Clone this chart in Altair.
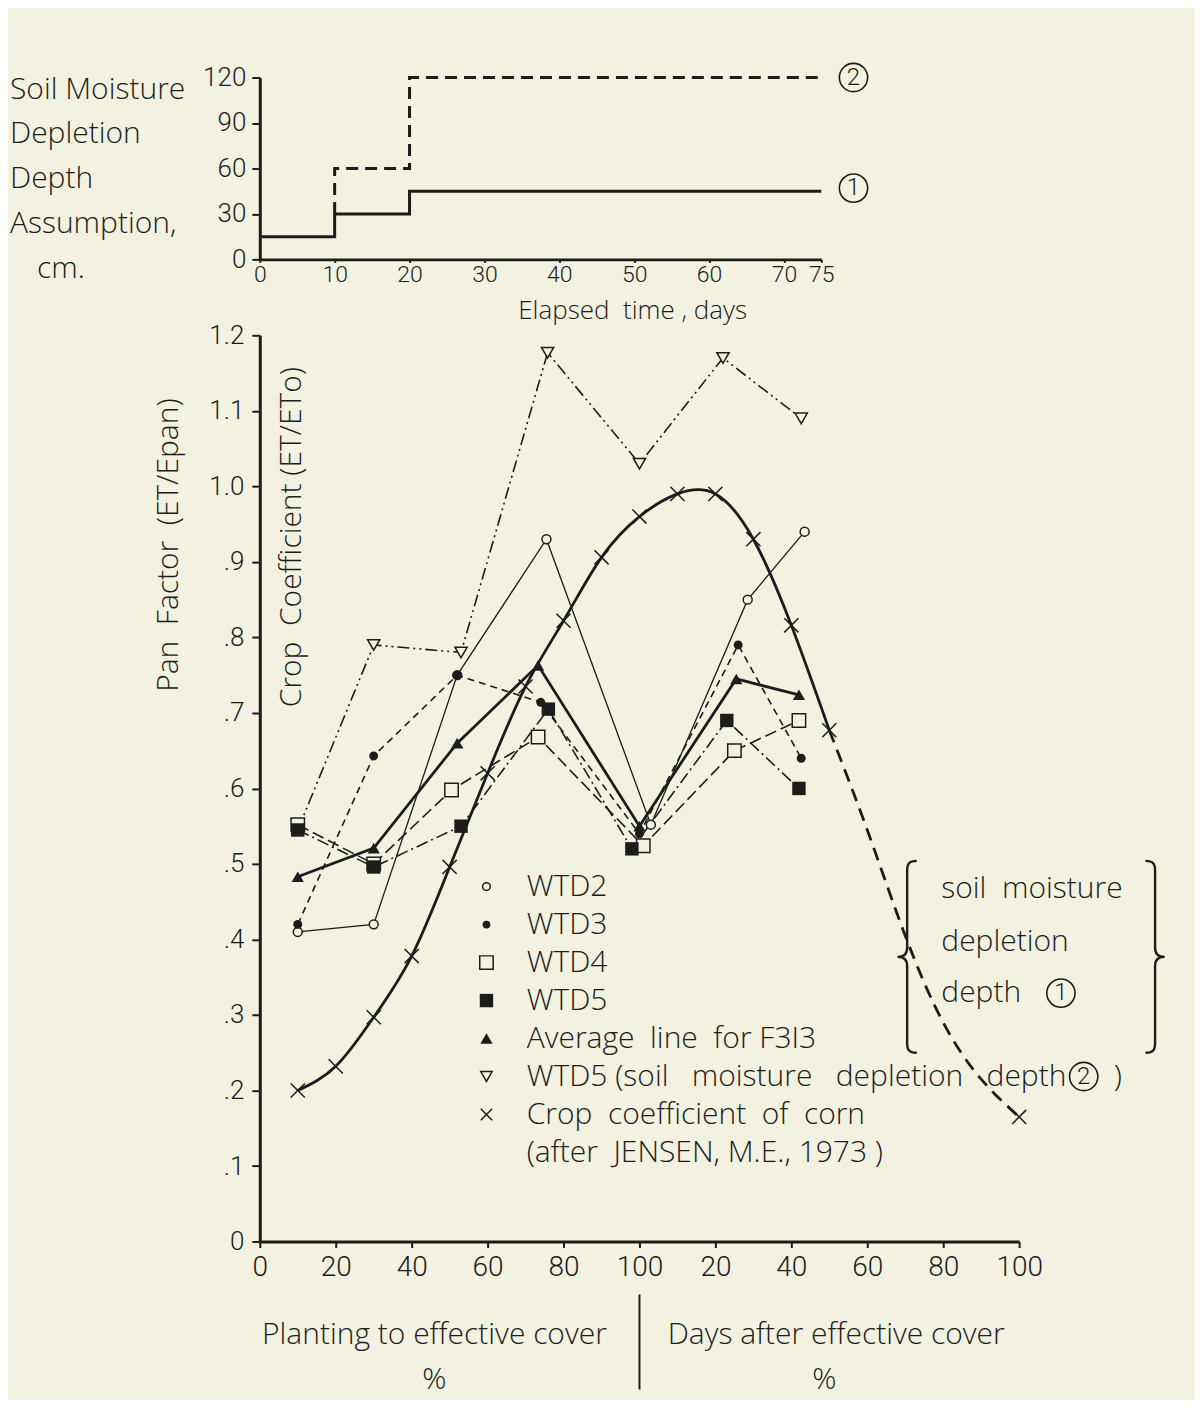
import altair as alt
import pandas as pd

INK = "#1c1c1c"
BG = "#f3f2e1"
FONT = "Open Sans"
TICKFONT = "Roboto"

# ---------------- top panel: soil moisture depletion depth assumption ----------------
days_1 = [0, 10, 20, 75]
depth_1 = [15, 30, 45, 45]
days_2 = [10, 10, 20, 75]
depth_2 = [30, 60, 120, 120]
top_x_ticks = [0, 10, 20, 30, 40, 50, 60, 70, 75]
top_y_ticks = [0, 15, 30, 45, 60, 75, 90, 105, 120]
top_title_lines = ["Soil Moisture", "Depletion", "Depth", "Assumption,", "cm."]
top_x_title = "Elapsed\u00a0\u00a0time\u00a0,\u00a0days"

# ---------------- main panel ----------------
wtd2_x = [10, 30, 52, 75.5, 103, 128.5, 143.5]
wtd2_y = [0.41, 0.42, 0.75, 0.93, 0.552, 0.85, 0.94]
wtd3_x = [10, 30, 52, 74, 100, 126, 142.6]
wtd3_y = [0.42, 0.643, 0.75, 0.714, 0.54, 0.79, 0.64]
wtd4_x = [10, 30, 50.5, 73.3, 101, 125, 142]
wtd4_y = [0.552, 0.50, 0.598, 0.668, 0.524, 0.65, 0.69]
wtd5_x = [10, 30, 53, 76, 98, 123, 142]
wtd5_y = [0.545, 0.496, 0.55, 0.705, 0.52, 0.69, 0.60]
avg_x = [10, 30, 52, 73.3, 100, 125.5, 142]
avg_y = [0.483, 0.521, 0.66, 0.763, 0.55, 0.745, 0.724]
wtd5b_x = [10, 30, 53, 75.8, 100, 122, 142.6]
wtd5b_y = [0.545, 0.79, 0.78, 1.177, 1.03, 1.17, 1.09]
crop_x = [10, 20, 30, 40, 50, 60, 70, 80, 90, 100, 110, 120, 130, 140, 150]
crop_y = [0.20, 0.232, 0.297, 0.378, 0.496, 0.62, 0.735, 0.822, 0.906, 0.96,
          0.99, 0.99, 0.93, 0.816, 0.677]
crop_ext_x = [150, 160, 170, 180, 190, 200]
crop_ext_y = [0.677, 0.545, 0.405, 0.29, 0.215, 0.165]
main_x_ticks = [0, 20, 40, 60, 80, 100, 120, 140, 160, 180, 200]
main_y_ticks = [0, 0.1, 0.2, 0.3, 0.4, 0.5, 0.6, 0.7, 0.8, 0.9, 1.0, 1.1, 1.2]
NB2 = "\u00a0\u00a0"
NB3 = "\u00a0\u00a0\u00a0"
legend_labels = ["WTD2", "WTD3", "WTD4", "WTD5",
                 "Average" + NB2 + "line" + NB2 + "for F3I3",
                 "WTD5 (soil" + NB3 + "moisture" + NB3 + "depletion" + NB3 + "depth",
                 "Crop" + NB2 + "coefficient" + NB2 + "of" + NB2 + "corn",
                 "(after" + NB2 + "JENSEN, M.E., 1973\u00a0)"]
brace_lines = ["soil" + NB2 + "moisture", "depletion", "depth"]
bottom_labels = ["Planting to effective cover", "Days after effective cover"]

XMARK = "M-1,-1L1,1M-1,1L1,-1"
LBRACE = ("M0.1,-1 C0.02,-1 0,-0.97 0,-0.9 L0,-0.1 C0,-0.03 -0.03,0 -0.1,0 "
          "C-0.03,0 0,0.03 0,0.1 L0,0.9 C0,0.97 0.02,1 0.1,1")
RBRACE = ("M-0.1,-1 C-0.02,-1 0,-0.97 0,-0.9 L0,-0.1 C0,-0.03 0.03,0 0.1,0 "
          "C0.03,0 0,0.03 0,0.1 L0,0.9 C0,0.97 -0.02,1 -0.1,1")

TS = 30  # text size


def one(t):
    return pd.DataFrame({"t": [t]})


def txt(t, x, y, size=TS, align="center", angle=None, opacity=1, font=FONT):
    kw = dict(font=font, fontWeight=300, fontSize=size, color=INK, align=align,
              baseline="middle", opacity=opacity)
    if angle is not None:
        kw["angle"] = angle
    return alt.Chart(one(t)).mark_text(**kw).encode(x=x, y=y, text="t:N")


# ================= top chart =================
TW, TH = 562, 182
tx = alt.X("x:Q", scale=alt.Scale(domain=[0, 75], nice=False, zero=False),
           axis=alt.Axis(values=top_x_ticks, title=None, tickSize=3, labelPadding=1,
                         labelFontSize=23, labelFlush=False))
ty = alt.Y("y:Q", scale=alt.Scale(domain=[0, 120], nice=False),
           axis=alt.Axis(values=top_y_ticks, title=None, tickSize=8, labelPadding=6,
                         labelFontSize=26,
                         labelExpr="datum.value % 30 == 0 ? datum.label : ''"))

d1 = pd.DataFrame({"x": days_1, "y": depth_1, "i": range(len(days_1))})
d2 = pd.DataFrame({"x": days_2, "y": depth_2, "i": range(len(days_2))})
top_layers = [
    alt.Chart(d1).mark_line(interpolate="step-after", color=INK, strokeWidth=3)
    .encode(x=tx, y=ty, order="i:Q"),
    alt.Chart(d2).mark_line(interpolate="step-after", color=INK, strokeWidth=3,
                            strokeDash=[12, 7])
    .encode(x=tx, y=ty, order="i:Q"),
]
for k, line in enumerate(top_title_lines):
    top_layers.append(txt(line, alt.value(-223 if line == "cm." else -250),
                          alt.value(12 + 45 * k), align="left"))
for yv, lab in [(120, "2"), (47, "1")]:
    top_layers.append(
        alt.Chart(one(lab)).mark_point(shape="circle", filled=False, size=800,
                                       color=INK, strokeWidth=1.6, opacity=1)
        .encode(x=alt.datum(79.3), y=alt.datum(yv)))
    top_layers.append(txt(lab, alt.datum(79.3), alt.datum(yv), size=24, font=TICKFONT))

top = alt.layer(*top_layers).properties(width=TW, height=TH)

# ================= main chart =================
MW, MH = 760, 907
mx = alt.X("x:Q", scale=alt.Scale(domain=[0, 200], nice=False),
           axis=alt.Axis(values=main_x_ticks, title=None, tickSize=6, labelPadding=6,
                         labelFontSize=28, labelFlush=False,
                         labelExpr="datum.value > 100 ? toString(datum.value - 100) : toString(datum.value)"))
my = alt.Y("y:Q", scale=alt.Scale(domain=[0, 1.2], nice=False),
           axis=alt.Axis(values=main_y_ticks, title=None, tickSize=8, labelPadding=8,
                         labelFontSize=26,
                         labelExpr="datum.value == 0 ? '0' : (datum.value < 0.99 ? replace(format(datum.value, '.1f'), '0.', '.') : format(datum.value, '.1f'))"))

series = [
    (wtd2_x, wtd2_y, dict(strokeWidth=1.3), "circle", False, 80),
    (wtd3_x, wtd3_y, dict(strokeWidth=1.6, strokeDash=[7, 5]), "circle", True, 80),
    (wtd4_x, wtd4_y, dict(strokeWidth=1.6, strokeDash=[12, 5]), "square", False, 180),
    (wtd5_x, wtd5_y, dict(strokeWidth=1.6, strokeDash=[12, 4, 2, 4]), "square", True, 180),
    (avg_x, avg_y, dict(strokeWidth=2.8), "triangle-up", True, 150),
    (wtd5b_x, wtd5b_y, dict(strokeWidth=1.6, strokeDash=[12, 4, 2, 4, 2, 4]),
     "triangle-down", False, 150),
]


def marker(df, shape, filled, size, x=mx, y=my):
    if filled:
        m = alt.Chart(df).mark_point(shape=shape, filled=True, size=size, color=INK, opacity=1)
    else:
        m = alt.Chart(df).mark_point(shape=shape, filled=True, size=size, fill=BG,
                                     stroke=INK, strokeWidth=1.5, opacity=1)
    return m.encode(x=x, y=y)


main_layers = []
# crop coefficient curve
dc = pd.DataFrame({"x": crop_x, "y": crop_y})
de = pd.DataFrame({"x": crop_ext_x, "y": crop_ext_y})
main_layers.append(alt.Chart(dc).mark_line(interpolate="natural", color=INK, strokeWidth=2.8)
                   .encode(x=mx, y=my))
main_layers.append(alt.Chart(de).mark_line(interpolate="natural", color=INK, strokeWidth=2.8,
                                           strokeDash=[13, 8]).encode(x=mx, y=my))
main_layers.append(alt.Chart(dc).mark_point(shape=XMARK, size=200, color=INK, strokeWidth=1.5,
                                            opacity=1).encode(x=mx, y=my))
main_layers.append(alt.Chart(de.iloc[-1:]).mark_point(shape=XMARK, size=200, color=INK,
                                                      strokeWidth=1.5, opacity=1)
                   .encode(x=mx, y=my))

for xs, ys, style, shape, filled, size in series:
    df = pd.DataFrame({"x": xs, "y": ys})
    main_layers.append(alt.Chart(df).mark_line(color=INK, **style).encode(x=mx, y=my))
for xs, ys, style, shape, filled, size in series:
    df = pd.DataFrame({"x": xs, "y": ys})
    if shape == "triangle-down":
        df = df.iloc[1:]
    main_layers.append(marker(df, shape, filled, size))

# legend
LX_M, LX_T = 59.7, 70.3
leg_shapes = [("circle", False, 60), ("circle", True, 60), ("square", False, 180),
              ("square", True, 180), ("triangle-up", True, 150), ("triangle-down", False, 130)]
for k, lab in enumerate(legend_labels):
    yv = 0.47 - 0.0503 * k
    if k < len(leg_shapes):
        s, f, z = leg_shapes[k]
        main_layers.append(marker(one(lab), s, f, z, x=alt.datum(LX_M), y=alt.datum(yv)))
    elif k == 6:
        main_layers.append(alt.Chart(one(lab)).mark_point(shape=XMARK, size=130, color=INK,
                                                          strokeWidth=1.5, opacity=1)
                           .encode(x=alt.datum(LX_M), y=alt.datum(yv)))
    main_layers.append(txt(lab, alt.datum(LX_T), alt.datum(yv), align="left"))
# circled 2 in legend
y6 = 0.47 - 0.0503 * 5
main_layers.append(alt.Chart(one("2")).mark_point(shape="circle", filled=False, size=800,
                                                  color=INK, strokeWidth=1.6, opacity=1)
                   .encode(x=alt.datum(217), y=alt.datum(y6)))
main_layers.append(txt("2", alt.datum(217), alt.datum(y6), size=24, font=TICKFONT))
main_layers.append(txt(")", alt.datum(226), alt.datum(y6)))

# braces annotation
for path, xv in [(LBRACE, 170.5), (RBRACE, 235.8)]:
    main_layers.append(alt.Chart(one("b")).mark_point(shape=path, size=192 * 192, color=INK,
                                                      strokeWidth=2.4, filled=False, opacity=1)
                       .encode(x=alt.datum(xv), y=alt.datum(0.377)))
for k, lab in enumerate(brace_lines):
    main_layers.append(txt(lab, alt.datum(179.5), alt.datum([0.467, 0.397, 0.329][k]),
                           align="left"))
main_layers.append(alt.Chart(one("1")).mark_point(shape="circle", filled=False, size=800,
                                                  color=INK, strokeWidth=1.6, opacity=1)
                   .encode(x=alt.datum(211), y=alt.datum(0.329)))
main_layers.append(txt("1", alt.datum(211), alt.datum(0.329), size=24, font=TICKFONT))

# top panel's x title, placed just above the main panel
main_layers.append(txt(top_x_title, alt.datum(98.2), alt.value(-24), size=26))

# axis titles inside/left
main_layers.append(txt("Pan" + NB2 + "Factor" + NB2 + "(ET/Epan)", alt.value(-91), alt.value(210),
                       angle=270))
main_layers.append(txt("Crop" + NB2 + "Coefficient\u00a0(ET/ETo)", alt.value(32), alt.value(202),
                       angle=270))
# invisible spacer to align left extents with top panel
main_layers.append(txt("Soil Moisture", alt.value(-250), alt.value(400), align="left",
                       opacity=0))

# bottom annotations
main_layers.append(txt(bottom_labels[0], alt.datum(46), alt.value(MH + 94)))
main_layers.append(txt(bottom_labels[1], alt.datum(151.8), alt.value(MH + 94)))
main_layers.append(txt("%", alt.datum(46), alt.value(MH + 139)))
main_layers.append(txt("%", alt.datum(148.7), alt.value(MH + 139)))
main_layers.append(alt.Chart(one("r")).mark_rule(color=INK, strokeWidth=2)
                   .encode(x=alt.datum(100), y=alt.value(MH + 53), y2=alt.value(MH + 148)))

main = alt.layer(*main_layers).properties(width=MW, height=MH)

chart = (
    alt.vconcat(top, main, spacing=12)
    .properties(background=BG, padding={"left": 2, "top": 51, "right": 25, "bottom": 4})
    .configure_view(stroke=None)
    .configure_axis(grid=False, labelFont=TICKFONT, labelFontWeight=300, labelColor=INK,
                    domainColor=INK, tickColor=INK, domainWidth=3, tickWidth=2)
)

chart.save("out.html", embed_options={"renderer": "svg", "actions": False})
